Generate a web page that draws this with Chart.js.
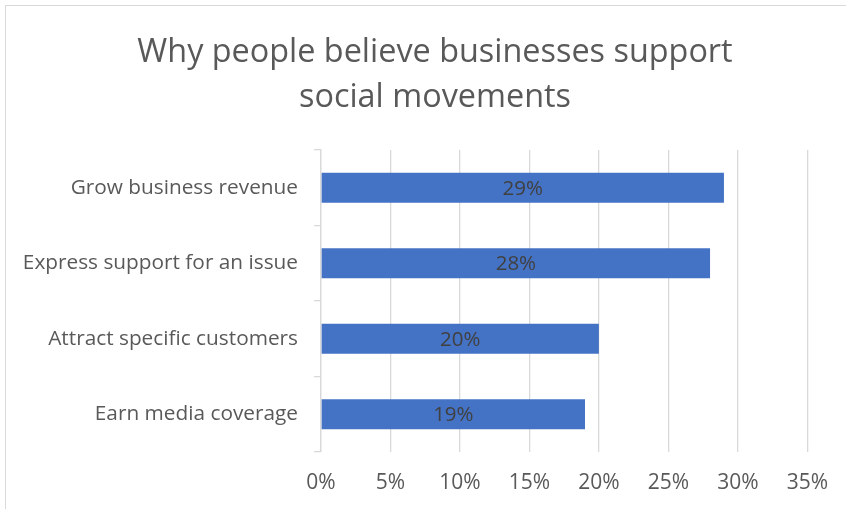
<!DOCTYPE html>
<html>
<head>
<meta charset="utf-8">
<script src="https://cdn.jsdelivr.net/npm/chart.js@4.4.1/dist/chart.umd.min.js"></script>
<style>
  body { margin: 0; background: #fff; }
  #wrap { position: relative; width: 846px; height: 509px; }
  #frame { position: absolute; left: 5px; top: 5px; width: 900px; height: 600px;
           border-left: 1px solid #d9d9d9; border-top: 1px solid #d9d9d9; }
  canvas { position: absolute; left: 0; top: 0; }
</style>
</head>
<body>
<div id="wrap">
  <div id="frame"></div>
  <canvas id="barChart" width="846" height="509"></canvas>
</div>
<script>
const categories = ['Grow business revenue', 'Express support for an issue', 'Attract specific customers', 'Earn media coverage'];
const shares = [29, 28, 20, 19];
const titleLines = ['Why people believe businesses support', 'social movements'];

const fontName = '"Open Sans"';

// value labels centred in each bar
const barLabels = {
    id: 'barLabels',
    afterDatasetsDraw(chart) {
        const ctx = chart.ctx;
        const meta = chart.getDatasetMeta(0);
        ctx.save();
        ctx.font = '20.5px ' + fontName;
        ctx.fillStyle = '#404040';
        ctx.textAlign = 'center';
        ctx.textBaseline = 'middle';
        meta.data.forEach(function (bar, i) {
            const mid = (bar.x + bar.base) / 2;
            ctx.fillText(shares[i] + '%', mid, bar.y + 1);
        });
        ctx.restore();
    }
};

// title is centred on the whole (uncropped) chart, not on the plot, so draw it here
const chartTitle = {
    id: 'chartTitle',
    afterDraw(chart) {
        const ctx = chart.ctx;
        ctx.save();
        ctx.font = '32.4px ' + fontName;
        ctx.fillStyle = '#595959';
        ctx.textAlign = 'center';
        ctx.textBaseline = 'middle';
        titleLines.forEach(function (line, i) {
            ctx.fillText(line, 435, 52.5 + i * 45);
        });
        ctx.restore();
    }
};

new Chart(document.getElementById('barChart'), {
    type: 'bar',
    data: {
        labels: categories,
        datasets: [{
            label: 'Share',
            data: shares,
            backgroundColor: '#4472c4',
            categoryPercentage: 1,
            barPercentage: 0.4
        }]
    },
    options: {
        indexAxis: 'y',
        responsive: false,
        animation: false,
        layout: { padding: { left: 6, right: 36, top: 150, bottom: 7 } },
        plugins: {
            legend: { display: false },
            tooltip: { enabled: false },
            title: { display: false }
        },
        scales: {
            x: {
                min: 0,
                max: 35,
                ticks: {
                    stepSize: 5,
                    color: '#595959',
                    font: { family: fontName, size: 21 },
                    padding: 18,
                    callback: function (v) { return v + '%'; }
                },
                grid: { color: '#d9d9d9', lineWidth: 1.3, drawTicks: false },
                border: { display: false },
                afterFit: function (scale) { scale.height = 50; }
            },
            y: {
                offset: true,
                ticks: {
                    color: '#595959',
                    font: { family: fontName, size: 20.8 },
                    padding: 16
                },
                grid: { offset: true, drawOnChartArea: false, color: '#d9d9d9', lineWidth: 1.3, tickLength: 7 },
                border: { color: '#d9d9d9', width: 1.3 },
                afterFit: function (scale) { scale.width = 315; }
            }
        }
    },
    plugins: [barLabels, chartTitle]
});
</script>
</body>
</html>
